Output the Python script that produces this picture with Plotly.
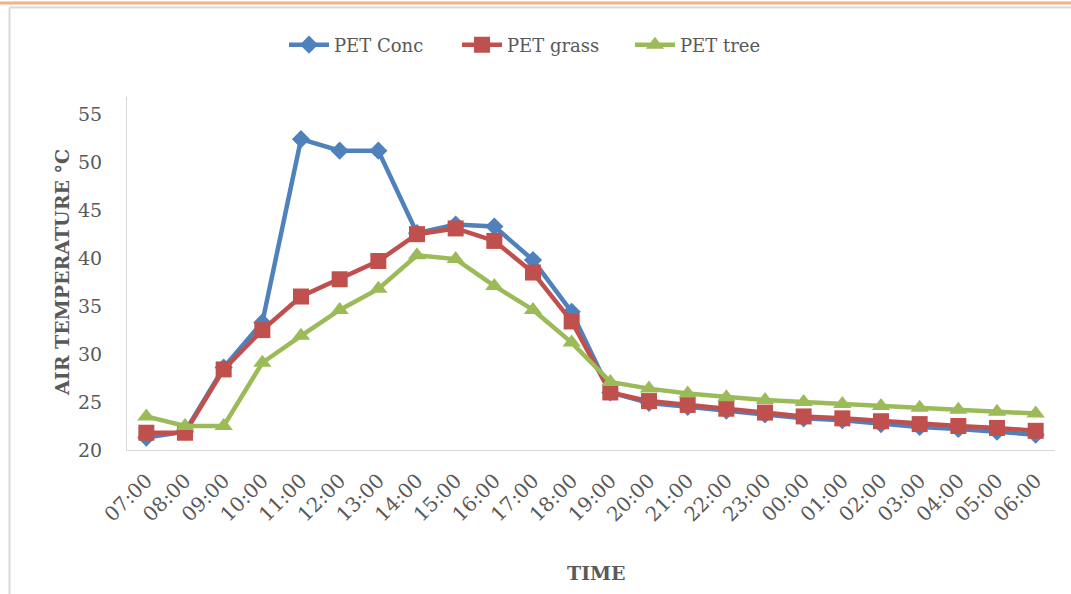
import plotly.graph_objects as go

times = ["07:00", "08:00", "09:00", "10:00", "11:00", "12:00", "13:00", "14:00",
         "15:00", "16:00", "17:00", "18:00", "19:00", "20:00", "21:00", "22:00",
         "23:00", "00:00", "01:00", "02:00", "03:00", "04:00", "05:00", "06:00"]

pet_conc = [21.3, 21.9, 28.6, 33.3, 52.4, 51.2, 51.2, 42.6, 43.5, 43.3, 39.8, 34.4,
            26.0, 24.9, 24.5, 24.1, 23.7, 23.3, 23.1, 22.7, 22.4, 22.2, 21.9, 21.6]
pet_grass = [21.8, 21.8, 28.4, 32.5, 36.0, 37.8, 39.7, 42.5, 43.1, 41.8, 38.5, 33.4,
             26.0, 25.1, 24.7, 24.3, 23.9, 23.5, 23.3, 23.0, 22.7, 22.5, 22.3, 22.0]
pet_tree = [23.5, 22.5, 22.5, 29.1, 31.9, 34.6, 36.8, 40.3, 39.9, 37.1, 34.6, 31.2,
            27.1, 26.4, 25.9, 25.5, 25.2, 25.0, 24.8, 24.6, 24.4, 24.2, 24.0, 23.8]

y_ticks = [20, 25, 30, 35, 40, 45, 50, 55]

series = [
    ("PET Conc", pet_conc, "#4F81BD", "diamond", 14),
    ("PET grass", pet_grass, "#C0504D", "square", 16),
    ("PET tree", pet_tree, "#9BBB59", "triangle-up", 16),
]

W, H = 1071, 594
L, R, T, B = 127, 16, 97, 144
PW, PH = W - L - R, H - T - B


def px_x(x):
    return (x - L) / PW


def px_y(y):
    return (H - B - y) / PH


fig = go.Figure()
for name, vals, color, sym, size in series:
    fig.add_trace(go.Scatter(
        x=times, y=vals, name=name, mode="lines+markers",
        line=dict(color=color, width=4.5),
        marker=dict(symbol=sym, size=size, color=color),
    ))

serif = "DejaVu Serif"
fig.update_layout(
    width=W, height=H,
    paper_bgcolor="white", plot_bgcolor="white",
    margin=dict(l=L, r=R, t=T, b=B, autoexpand=False),
    font=dict(family=serif, color="#595959", size=17),
    legend=dict(orientation="h", xref="container", yref="container",
                x=284 / W, xanchor="left", y=1 - 45 / H, yanchor="middle",
                bgcolor="rgba(0,0,0,0)", entrywidth=118, entrywidthmode="pixels",
                font=dict(size=18, color="#595959"), itemwidth=40, traceorder="normal"),
    xaxis=dict(type="category", range=[-0.5, len(times) - 0.5], showgrid=False,
               showline=True, linecolor="#D9D9D9",
               linewidth=1, ticks="", tickangle=-45, tickfont=dict(size=20),
               automargin=False, ticklabelstandoff=10),
    yaxis=dict(range=[20, 56.8], tickvals=y_ticks, showgrid=False, showline=True,
               linecolor="#D9D9D9", linewidth=1, ticks="", tickfont=dict(size=19),
               zeroline=False, ticklabelstandoff=20, automargin=False),
    annotations=[
        dict(text="<b>TIME</b>", xref="paper", yref="paper", x=px_x(596), y=px_y(573),
             xanchor="center", yanchor="middle", showarrow=False,
             font=dict(size=19, color="#595959")),
        dict(text="<b>AIR TEMPERATURE °C</b>", xref="paper", yref="paper",
             x=px_x(62), y=px_y(273), xanchor="center", yanchor="middle",
             textangle=-90, showarrow=False, font=dict(size=19, color="#595959")),
    ],
    shapes=[
        dict(type="line", xref="paper", yref="paper", x0=px_x(-5), x1=px_x(W + 5),
             y0=px_y(3), y1=px_y(3), line=dict(color="#F4B183", width=3)),
        dict(type="line", xref="paper", yref="paper", x0=px_x(9.5), x1=px_x(W + 5),
             y0=px_y(7.5), y1=px_y(7.5), line=dict(color="#D9D9D9", width=2)),
        dict(type="line", xref="paper", yref="paper", x0=px_x(9.5), x1=px_x(9.5),
             y0=px_y(7.5), y1=px_y(H + 5), line=dict(color="#D9D9D9", width=2)),
    ],
)

fig.write_html("out.html", config={"displayModeBar": False},
               post_script="document.body.style.margin='0';document.body.style.overflow='hidden';")
